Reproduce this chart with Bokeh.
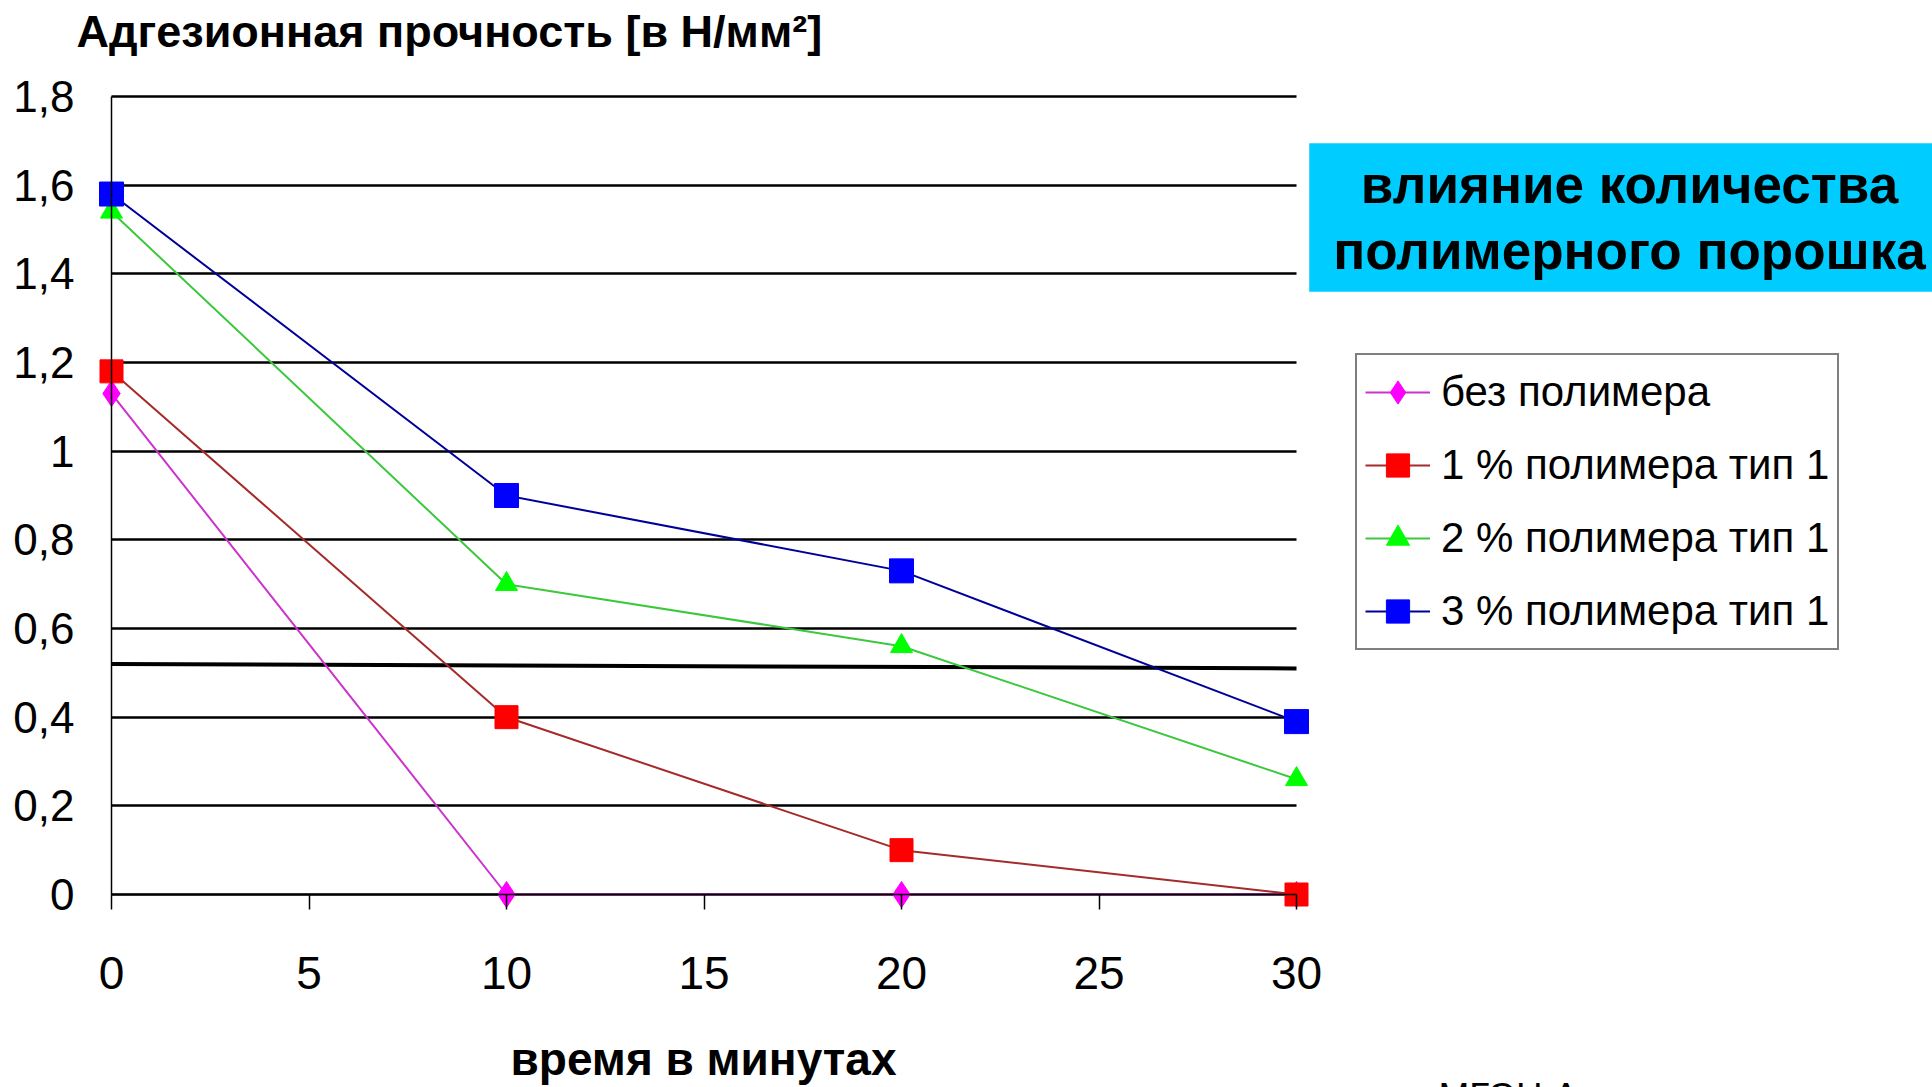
from bokeh.plotting import figure
from bokeh.models import Range1d, FixedTicker, Legend, LegendItem, Label, LinearAxis, Grid
from bokeh.embed import file_html
from bokeh.resources import INLINE

# ---------------- data ----------------
minutes = [0, 10, 20, 30]
series_names = ["без полимера", "1 % полимера тип 1", "2 % полимера тип 1", "3 % полимера тип 1"]
no_polymer = [1.13, 0.0, 0.0, 0.0]
poly_1pct = [1.18, 0.40, 0.10, 0.0]
poly_2pct = [1.54, 0.70, 0.56, 0.26]
poly_3pct = [1.58, 0.90, 0.73, 0.39]
threshold_x = [0, 30]
threshold_y = [0.52, 0.51]
x_ticks = [0, 5, 10, 15, 20, 25, 30]
x_tick_labels = ["0", "5", "10", "15", "20", "25", "30"]
y_ticks = [0.0, 0.2, 0.4, 0.6, 0.8, 1.0, 1.2, 1.4, 1.6, 1.8]
y_tick_labels = ["0", "0,2", "0,4", "0,6", "0,8", "1", "1,2", "1,4", "1,6", "1,8"]
y_title = "Адгезионная прочность [в Н/мм²]"
x_title = "время в минутах"
note_text = "влияние количества\nполимерного порошка"
footer_text = "МГЭЦ А"

# ---------------- layout ----------------
W, H = 1932, 1087
AX_L, AX_R = 111, 1296     # pixel of x=0 and x=30
AX_T, AX_B = 96, 894       # pixel of y=1.8 and y=0
# the frame covers the whole canvas so that nothing is clipped
FL, FR, FT, FB = 0, W, 0, H

x0, x1 = x_ticks[0], x_ticks[-1]
y0, y1 = y_ticks[0], y_ticks[-1]
sx = (AX_R - AX_L) / (x1 - x0)
sy = (AX_B - AX_T) / (y1 - y0)
x_range = Range1d(x0 - (AX_L - FL) / sx, x1 + (FR - AX_R) / sx)
y_range = Range1d(y0 - (FB - AX_B) / sy, y1 + (AX_T - FT) / sy)

p = figure(width=W, height=H, x_range=x_range, y_range=y_range, title=None,
           output_backend="svg", toolbar_location=None,
           x_axis_type=None, y_axis_type=None,
           min_border=0, min_border_left=0, min_border_right=0,
           min_border_top=0, min_border_bottom=0,
           background_fill_color="white", border_fill_color="white")
p.outline_line_color = None

REG = "Liberation Sans"

xaxis = LinearAxis(fixed_location=0, bounds=(x0, x1),
                   ticker=FixedTicker(ticks=x_ticks),
                   major_label_overrides=dict(zip(x_ticks, x_tick_labels)),
                   major_tick_out=15, major_tick_in=0,
                   minor_tick_out=0, minor_tick_in=0,
                   axis_line_color="black", axis_line_width=1.5,
                   major_tick_line_color="black", major_tick_line_width=1.5,
                   major_label_standoff=47,
                   major_label_text_font=REG,
                   major_label_text_font_size="46px",
                   major_label_text_color="black")
p.add_layout(xaxis, "below")

yaxis = LinearAxis(fixed_location=0, bounds=(y0, y1),
                   ticker=FixedTicker(ticks=y_ticks),
                   major_label_overrides=dict(zip(y_ticks, y_tick_labels)),
                   major_tick_out=0, major_tick_in=0,
                   minor_tick_out=0, minor_tick_in=0,
                   axis_line_color="black", axis_line_width=1.5,
                   major_label_standoff=37,
                   major_label_text_font=REG,
                   major_label_text_font_size="44px",
                   major_label_text_color="black")
p.add_layout(yaxis, "left")

ygrid = Grid(dimension=1, ticker=FixedTicker(ticks=y_ticks),
             grid_line_color="black", grid_line_width=2.5)
try:
    ygrid.cross_bounds = (x0, x1)
except Exception:
    pass
p.add_layout(ygrid, "center")

# threshold line
p.line(threshold_x, threshold_y, line_color="black", line_width=4)

styles = [
    ("#CC33CC", "diamond", "#FF00FF", 26),
    ("#A52A2A", "square", "#FF0000", 23),
    ("#3CC83C", "triangle", "#00FF00", 22),
    ("#000099", "square", "#0000FF", 24),
]
values = [no_polymer, poly_1pct, poly_2pct, poly_3pct]
items = []
for name, vals, (lc, mk, fc, sz) in zip(series_names, values, styles):
    rl = p.line(minutes, vals, line_color=lc, line_width=2)
    rs = p.scatter(minutes, vals, marker=mk, size=sz, fill_color=fc, line_color=fc)
    items.append(LegendItem(label=name, renderers=[rl, rs]))

legend = Legend(items=items, location=(1355 - FL, FB - 650),
                orientation="vertical",
                label_text_font=REG, label_text_font_size="42px",
                label_text_color="black",
                glyph_width=65, glyph_height=58, label_height=58,
                label_standoff=11, spacing=15, padding=8, margin=0,
                border_line_color="black", border_line_width=2.5,
                background_fill_color="white", background_fill_alpha=1.0)
p.add_layout(legend, "center")

def lab(px, py, text, **kw):
    return Label(x=px - FL, y=FB - py, x_units="screen", y_units="screen",
                 text=text, **kw)

p.add_layout(lab(76, 31, y_title, text_font=REG, text_font_style="bold",
                 text_font_size="45px", text_baseline="middle", text_align="left",
                 text_color="black"))
# padding order: (left, right, top, bottom)
p.add_layout(lab(1629, 217, note_text, text_font=REG, text_font_style="bold",
                 text_font_size="53px", text_baseline="middle", text_align="center",
                 text_color="black", text_line_height=1.11,
                 background_fill_color="#00CCFF", padding=(24, 24, 12, 12)))
p.add_layout(lab(703, 1058, x_title, text_font=REG, text_font_style="bold",
                 text_font_size="46px", text_baseline="middle", text_align="center",
                 text_color="black"))
p.add_layout(lab(1438, 1096, footer_text, text_font=REG, text_font_size="37px",
                 text_baseline="alphabetic", text_align="left", text_color="black"))

open("out.html", "w").write(file_html(p, INLINE))
